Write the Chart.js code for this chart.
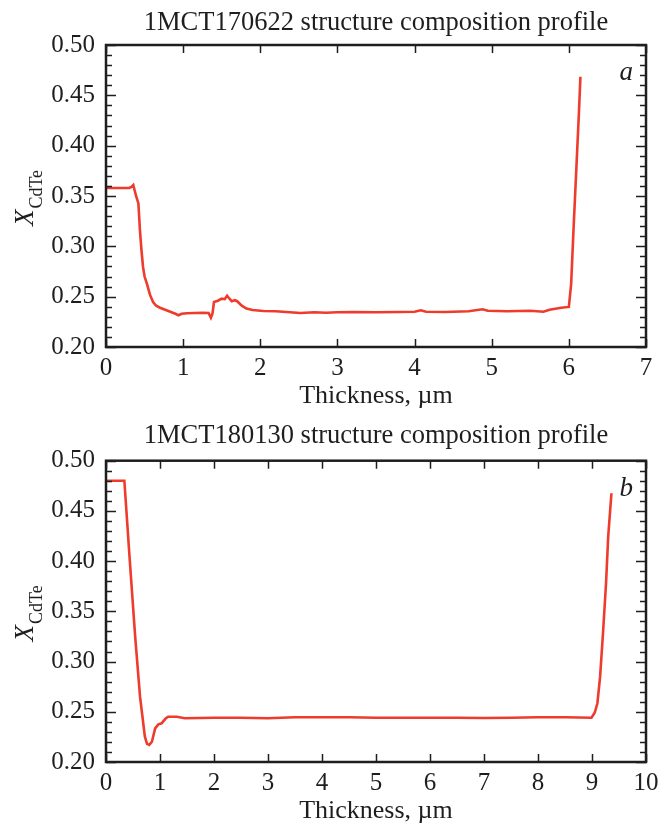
<!DOCTYPE html>
<html>
<head>
<meta charset="utf-8">
<script src="https://cdn.jsdelivr.net/npm/chart.js@4.4.1/dist/chart.umd.min.js"></script>
<style>
  html, body { margin: 0; padding: 0; background: #fff; }
  .wrap { position: relative; width: 670px; height: 412px; }
  canvas { display: block; }
</style>
</head>
<body>
<div class="wrap"><canvas id="chartA" width="670" height="412"></canvas></div>
<div class="wrap"><canvas id="chartB" width="670" height="412"></canvas></div>
<script>
// ---- Data ----
const titleA = '1MCT170622 structure composition profile';
const titleB = '1MCT180130 structure composition profile';
const xAxisTitle = 'Thickness, \u00b5m';
const yTickLabels = ['0.20', '0.25', '0.30', '0.35', '0.40', '0.45', '0.50'];

const thicknessA = [0, 0.1, 0.2, 0.3, 0.33, 0.354, 0.37, 0.39, 0.42, 0.44, 0.46, 0.48, 0.50, 0.53, 0.57, 0.61, 0.65, 0.70, 0.80, 0.90, 0.94, 0.98, 1.05, 1.15, 1.25, 1.33, 1.36, 1.38, 1.40, 1.45, 1.50, 1.54, 1.57, 1.60, 1.63, 1.67, 1.70, 1.76, 1.82, 1.90, 2.04, 2.2, 2.52, 2.7, 2.85, 3.0, 3.2, 3.5, 3.8, 4.0, 4.08, 4.15, 4.4, 4.7, 4.88, 4.95, 5.2, 5.5, 5.67, 5.75, 5.9, 6.0, 6.03, 6.06, 6.10, 6.13, 6.15];
const xCdTeA = [0.358, 0.358, 0.358, 0.358, 0.359, 0.3608, 0.356, 0.350, 0.3426, 0.316, 0.296, 0.2795, 0.270, 0.263, 0.252, 0.2447, 0.241, 0.239, 0.236, 0.233, 0.2315, 0.233, 0.2335, 0.2338, 0.2340, 0.2338, 0.229, 0.233, 0.2447, 0.246, 0.248, 0.2475, 0.251, 0.248, 0.2455, 0.2465, 0.2455, 0.241, 0.2382, 0.2368, 0.2358, 0.2355, 0.2338, 0.2345, 0.234, 0.2345, 0.2348, 0.2345, 0.2348, 0.235, 0.2365, 0.235, 0.2348, 0.2355, 0.2375, 0.236, 0.2355, 0.236, 0.235, 0.237, 0.239, 0.2398, 0.263, 0.316, 0.382, 0.432, 0.4685];

const thicknessB = [0, 0.1, 0.2, 0.34, 0.44, 0.54, 0.63, 0.72, 0.76, 0.80, 0.85, 0.91, 0.97, 1.03, 1.10, 1.15, 1.31, 1.46, 2.0, 2.5, 3.0, 3.5, 4.0, 4.5, 5.0, 5.5, 6.0, 6.5, 7.0, 7.5, 8.0, 8.5, 8.99, 9.05, 9.10, 9.15, 9.20, 9.26, 9.30, 9.36];
const xCdTeB = [0.480, 0.480, 0.480, 0.480, 0.401, 0.325, 0.265, 0.2252, 0.218, 0.217, 0.2202, 0.2335, 0.2375, 0.2385, 0.243, 0.245, 0.245, 0.2435, 0.244, 0.244, 0.2435, 0.2445, 0.2445, 0.2445, 0.244, 0.244, 0.244, 0.244, 0.2438, 0.244, 0.2445, 0.2445, 0.244, 0.249, 0.2585, 0.285, 0.325, 0.378, 0.4244, 0.4676];

const FONT = '"Liberation Serif", "Times New Roman", serif';
const INK = '#1e1e1e';
const LINE_COLOR = '#ee3b2b';

function isMajorY(v) { return Math.abs(v * 20 - Math.round(v * 20)) < 1e-6; }

const decorPlugin = {
  id: 'decor',
  afterDatasetsDraw(chart, args, opts) {
    const ctx = chart.ctx;
    const a = chart.chartArea;
    const xs = chart.scales.x, ys = chart.scales.y;
    ctx.save();
    ctx.strokeStyle = INK;
    ctx.lineWidth = 1.5;
    ctx.beginPath();
    ys.ticks.forEach(t => {
      const y = Math.round(ys.getPixelForValue(t.value)) + 0.5;
      const len = isMajorY(t.value) ? 10 : 6;
      ctx.moveTo(a.left, y); ctx.lineTo(a.left + len, y);
      ctx.moveTo(a.right, y); ctx.lineTo(a.right - len, y);
    });
    xs.ticks.forEach(t => {
      const x = Math.round(xs.getPixelForValue(t.value)) + 0.5;
      ctx.moveTo(x, a.bottom); ctx.lineTo(x, a.bottom - 8);
      ctx.moveTo(x, a.top); ctx.lineTo(x, a.top + 8);
    });
    ctx.stroke();
    // frame
    ctx.lineWidth = 2.5;
    ctx.strokeRect(a.left, a.top, a.right - a.left, a.bottom - a.top);
    // panel letter
    ctx.fillStyle = INK;
    ctx.font = 'italic 27px ' + FONT;
    ctx.textAlign = 'right';
    ctx.textBaseline = 'alphabetic';
    ctx.fillText(opts.letter, a.right - 13, a.top + 35);
    // y-axis title X_CdTe
    const cy = (a.top + a.bottom) / 2 + 2;
    ctx.translate(0, cy);
    ctx.rotate(-Math.PI / 2);
    ctx.font = 'italic 27px ' + FONT;
    const w1 = ctx.measureText('X').width;
    ctx.font = '18px ' + FONT;
    const w2 = ctx.measureText('CdTe').width;
    const start = -(w1 + w2 + 1) / 2;
    ctx.textAlign = 'left';
    ctx.font = 'italic 27px ' + FONT;
    ctx.fillText('X', start, 33);
    ctx.font = '18px ' + FONT;
    ctx.fillText('CdTe', start + w1 + 1, 42);
    ctx.restore();
  }
};

function makeChart(id, xs, ys, xMax, title, letter, plotTop, plotBottom, titleCenter, xTitleOffset) {
  const lh = 26.5 * 1.2;
  const padTop = titleCenter - lh / 2;
  const padBottom = plotTop - padTop - lh;
  const points = xs.map((x, i) => ({ x: x, y: ys[i] }));
  return new Chart(document.getElementById(id), {
    type: 'scatter',
    data: {
      datasets: [{
        data: points,
        showLine: true,
        borderColor: LINE_COLOR,
        borderWidth: 2.6,
        pointRadius: 0,
        tension: 0,
        fill: false
      }]
    },
    options: {
      responsive: false,
      animation: false,
      devicePixelRatio: 1,
      layout: { padding: { left: 0, right: 24, top: 0, bottom: 0 } },
      plugins: {
        legend: { display: false },
        tooltip: { enabled: false },
        title: {
          display: true,
          text: title,
          fullSize: false,
          color: INK,
          font: { family: FONT, size: 26.5, weight: 'normal', lineHeight: 1.2 },
          padding: { top: padTop, bottom: padBottom }
        },
        decor: { letter: letter }
      },
      scales: {
        x: {
          type: 'linear',
          min: 0, max: xMax,
          grid: { display: false, drawTicks: false },
          border: { display: false },
          ticks: {
            stepSize: 1,
            autoSkip: false,
            padding: 6,
            color: INK,
            font: { family: FONT, size: 25 },
            callback: v => String(v)
          },
          title: {
            display: true,
            text: xAxisTitle,
            color: INK,
            font: { family: FONT, size: 26, lineHeight: (2 * xTitleOffset) / 26 },
            padding: { top: 0, bottom: 0 }
          },
          afterFit: s => { s.height = 412 - plotBottom; }
        },
        y: {
          type: 'linear',
          min: 0.2, max: 0.5,
          grid: { display: false, drawTicks: false },
          border: { display: false },
          ticks: {
            stepSize: 0.01,
            autoSkip: false,
            padding: 11,
            color: INK,
            font: { family: FONT, size: 25 },
            callback: v => {
              if (!isMajorY(v)) return '';
              const idx = Math.round((v - 0.2) * 20);
              return yTickLabels[idx];
            }
          },
          afterFit: s => { s.width = 106; }
        }
      }
    },
    plugins: [decorPlugin]
  });
}

makeChart('chartA', thicknessA, xCdTeA, 7, titleA, 'a', 45, 347, 23, 15.5);
makeChart('chartB', thicknessB, xCdTeB, 10, titleB, 'b', 48.7, 350, 24.5, 13);
</script>
</body>
</html>
